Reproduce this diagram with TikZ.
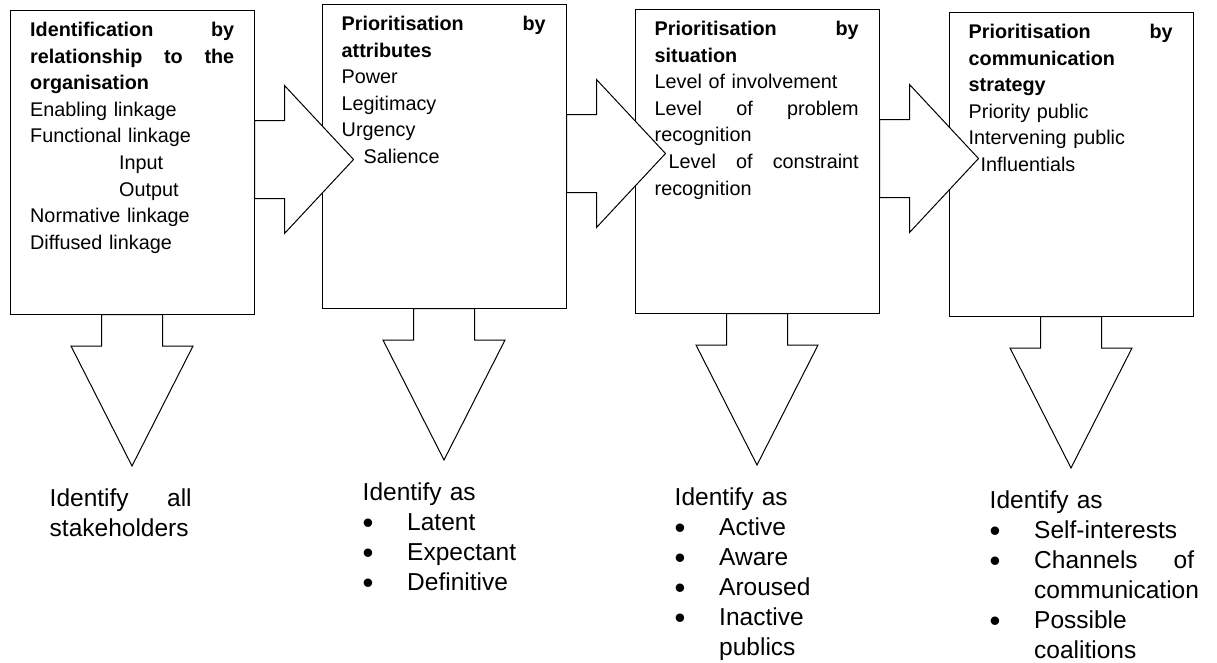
\documentclass[tikz,border=0pt]{standalone}
\usepackage{fontspec}
\setmainfont{Liberation Sans}
\usetikzlibrary{positioning,calc}

\tikzset{
  frame/.style={draw, line width=1pt, minimum width=244pt, minimum height=304pt, inner sep=0pt},
  boxtext/.style={anchor=base west, inner sep=0pt, text width=204pt, align=left,
    font=\fontsize{19.8}{26.6}\selectfont},
  outtext/.style={anchor=base west, inner sep=0pt, text width=220pt, align=left,
    font=\fontsize{24.5}{30}\selectfont},
  blockarrow/.style={draw, fill=white, line width=1pt},
}
% a justified line: words spread with \hfill
\newcommand{\stretchline}[2][\hsize]{\leavevmode\hbox to #1{#2}}
\newcommand{\bulletgap}{\makebox[44.5pt][l]{\raisebox{-2.5pt}{\fontsize{31}{30}\selectfont\textbullet}}}

\begin{document}
\begin{tikzpicture}[x=1pt,y=1pt]
    \useasboundingbox (0,0) rectangle (1217,-662);
    % the four stages
    \node[frame] (b1) at (132,-162) {};
    \node[frame, right=67pt of b1, yshift=6pt] (b2) {};
    \node[frame, right=68pt of b2, yshift=-5pt] (b3) {};
    \node[frame, right=69pt of b3, yshift=-3pt] (b4) {};
    % block arrows, white, over the frames
    \foreach \b in {b1,b2,b3}
        \draw[blockarrow] ($(\b.north east)+(0,-111)$) -- ++(30,0) -- ++(0,35)
            -- ++(69,-74) -- ++(-69,-74) -- ++(0,35) -- ++(-30,0) -- cycle;
    \foreach \b in {b1,b2,b3,b4}
        \draw[blockarrow] ($(\b.south)+(-30.5,0)$) -- ++(0,-31.5) -- ++(-30.5,0)
            -- ++(61,-120) -- ++(61,120) -- ++(-30.5,0) -- ++(0,31.5) -- cycle;
    % texts in the frames
    \node[boxtext] (t1) at ($(b1.north west)+(20.5,-27)$)
        {\textbf{\stretchline{Identification\hfill by}}\\
         \textbf{\stretchline{relationship\hfill to\hfill the}}\\
         \textbf{organisation}\\
         Enabling linkage\\
         Functional linkage\\
         \hspace*{89pt}Input\\
         \hspace*{89pt}Output\\
         Normative linkage\\
         Diffused linkage};
    \node[boxtext] (t2) at ($(b2.north west)+(20,-27)$)
        {\textbf{\stretchline{Prioritisation\hfill by}}\\
         \textbf{attributes}\\
         Power\\
         Legitimacy\\
         Urgency\\
         \hspace*{22pt}Salience};
    \node[boxtext] (t3) at ($(b3.north west)+(20,-27)$)
        {\textbf{\stretchline{Prioritisation\hfill by}}\\
         \textbf{situation}\\
         Level of involvement\\
         \stretchline{Level\hfill of\hfill problem}\\
         recognition\\
         \stretchline{\hspace*{14pt}Level\hfill of\hfill constraint}\\
         recognition};
    \node[boxtext] (t4) at ($(b4.north west)+(20,-27)$)
        {\textbf{\stretchline{Prioritisation\hfill by}}\\
         \textbf{communication}\\
         \textbf{strategy}\\
         Priority public\\
         Intervening public\\
         \hspace*{12pt}Influentials};
    % what comes out of each stage
    \node[outtext] (o1) at ($(b1.south west)+(40,-192)$)
        {\stretchline[142pt]{Identify\hfill all}\\
         stakeholders};
    \node[outtext] (o2) at ($(b2.south west)+(41,-192)$)
        {Identify as\\
         \bulletgap Latent\\
         \bulletgap Expectant\\
         \bulletgap Definitive};
    \node[outtext] (o3) at ($(b3.south west)+(40,-192)$)
        {Identify as\\
         \bulletgap Active\\
         \bulletgap Aware\\
         \bulletgap Aroused\\
         \bulletgap Inactive\\
         \hspace*{44.5pt}publics};
    \node[outtext] (o4) at ($(b4.south west)+(41,-192)$)
        {Identify as\\
         \bulletgap Self-interests\\
         \bulletgap\stretchline[160pt]{Channels\hfill of}\\
         \hspace*{44.5pt}communication\\
         \bulletgap Possible\\
         \hspace*{44.5pt}coalitions};
\end{tikzpicture}
\end{document}
